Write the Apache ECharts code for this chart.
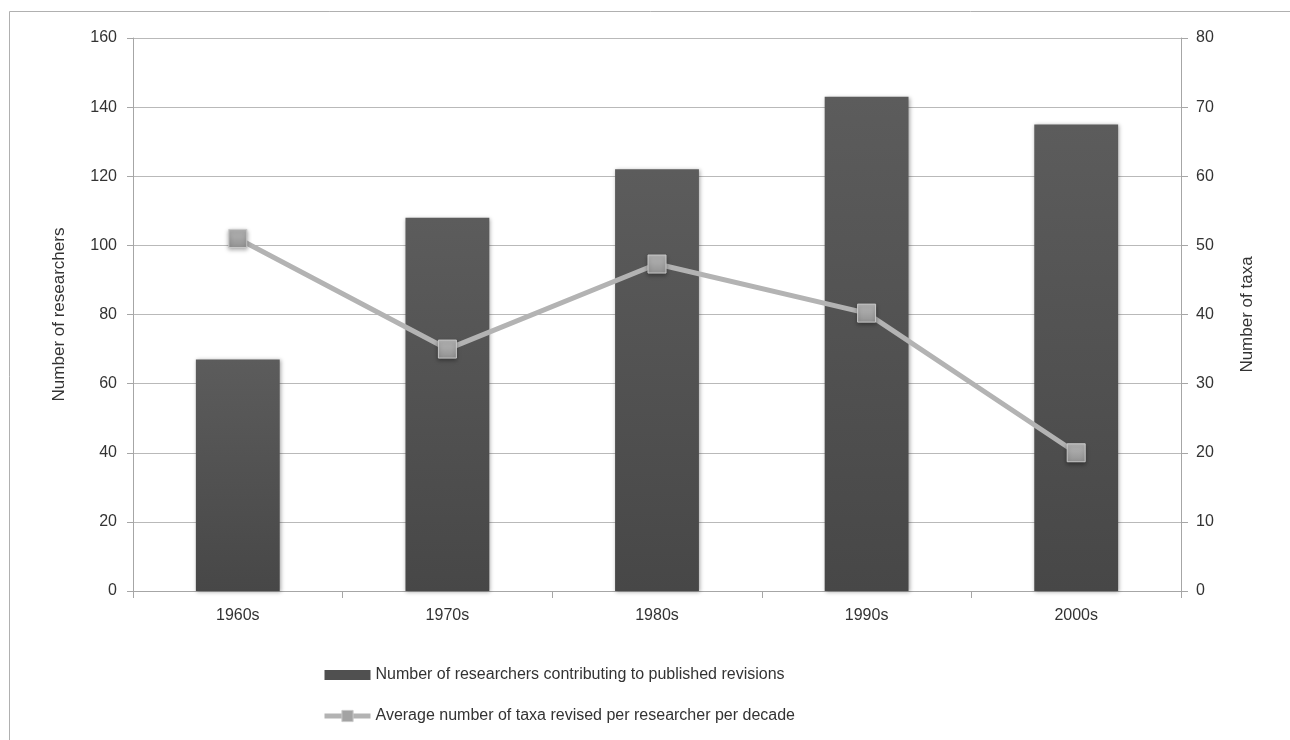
<!DOCTYPE html>
<html>
<head>
<meta charset="utf-8">
<script src="https://cdn.jsdelivr.net/npm/echarts@6/dist/echarts.min.js"></script>
<style>
  html, body { margin: 0; padding: 0; background: #fff; }
  #chart { width: 1290px; height: 740px; }
</style>
</head>
<body>
<div id="chart"></div>
<script>
// Decades on the category axis
const decades = ['1960s', '1970s', '1980s', '1990s', '2000s'];
// Researchers contributing to published revisions (left axis)
const researchers = [67, 108, 122, 143, 135];
// Average taxa revised per researcher per decade (right axis)
const taxaPerResearcher = [51, 35, 47.3, 40.2, 20];

const FONT = '"Liberation Sans Narrow", "Liberation Sans", Arial, sans-serif';
const TEXT = '#333333';
const AXIS = '#a6a6a6';
const GRID = '#b9b9b9';

const BAR_NAME = 'Number of researchers contributing to published revisions';
const LINE_NAME = 'Average number of taxa revised per researcher per decade';

const barFill = () => new echarts.graphic.LinearGradient(0, 0, 0, 1, [
  { offset: 0, color: '#5c5c5c' },
  { offset: 1, color: '#474747' }
]);
const markerFill = () => new echarts.graphic.LinearGradient(0, 0, 0, 1, [
  { offset: 0, color: '#b8b8b8' },
  { offset: 1, color: '#929292' }
]);

const chart = echarts.init(document.getElementById('chart'), null, { renderer: 'canvas' });

chart.setOption({
  animation: false,
  backgroundColor: '#ffffff',
  textStyle: { fontFamily: FONT },
  graphic: [{
    type: 'rect',
    shape: { x: 9.5, y: 11.5, width: 1400, height: 800 },
    style: { fill: 'none', stroke: '#b0b0b0', lineWidth: 1 },
    silent: true
  }],
  grid: { left: 133, right: 109, top: 38, bottom: 149 },
  legend: {
    orient: 'vertical',
    left: 322,
    top: 667,
    padding: 0,
    itemGap: 25,
    itemWidth: 46,
    itemHeight: 14,
    textStyle: { fontFamily: FONT, fontSize: 16, color: TEXT, padding: [0, 0, 0, 0] },
    data: [
      {
        name: BAR_NAME,
        icon: 'path://M0,2 L46,2 L46,12 L0,12 Z',
        itemStyle: { color: '#505050', shadowBlur: 0 }
      },
      {
        name: LINE_NAME,
        lineStyle: { width: 5, color: '#b3b3b3' },
        itemStyle: { color: '#a3a3a3', borderColor: '#c9c9c9', borderWidth: 1, shadowBlur: 0 }
      }
    ]
  },
  xAxis: {
    type: 'category',
    data: decades,
    boundaryGap: true,
    axisLine: { lineStyle: { color: AXIS, width: 1 } },
    axisTick: { show: true, length: 7, lineStyle: { color: AXIS } },
    axisLabel: { fontFamily: FONT, fontSize: 16, color: TEXT, margin: 17 }
  },
  yAxis: [{
    type: 'value',
    min: 0, max: 160, interval: 20,
    name: 'Number of researchers',
    nameLocation: 'middle',
    nameRotate: 90,
    nameGap: 65,
    nameTextStyle: { fontFamily: FONT, fontSize: 17, color: TEXT },
    axisLine: { show: true, lineStyle: { color: AXIS } },
    axisTick: { show: true, length: 6, lineStyle: { color: AXIS } },
    axisLabel: { fontFamily: FONT, fontSize: 16, color: TEXT, margin: 16 },
    splitLine: { show: true, lineStyle: { color: GRID, width: 1 } }
  }, {
    type: 'value',
    position: 'right',
    min: 0, max: 80, interval: 10,
    name: 'Number of taxa',
    nameLocation: 'middle',
    nameRotate: 90,
    nameGap: 58,
    nameTextStyle: { fontFamily: FONT, fontSize: 17, color: TEXT },
    axisLine: { show: true, lineStyle: { color: AXIS } },
    axisTick: { show: true, length: 7, lineStyle: { color: AXIS } },
    axisLabel: { fontFamily: FONT, fontSize: 16, color: TEXT, margin: 15 },
    splitLine: { show: false }
  }],
  series: [{
    name: BAR_NAME,
    type: 'bar',
    yAxisIndex: 0,
    data: researchers,
    barWidth: '40%',
    itemStyle: {
      color: barFill(),
      shadowBlur: 4,
      shadowColor: 'rgba(0,0,0,0.35)',
      shadowOffsetX: 1,
      shadowOffsetY: 1
    }
  }, {
    name: LINE_NAME,
    type: 'line',
    yAxisIndex: 1,
    data: taxaPerResearcher,
    symbol: 'rect',
    symbolSize: 18,
    z: 5,
    lineStyle: { color: '#b3b3b3', width: 5 },
    itemStyle: {
      color: markerFill(),
      borderColor: '#c9c9c9',
      borderWidth: 1,
      shadowBlur: 4,
      shadowColor: 'rgba(0,0,0,0.35)',
      shadowOffsetY: 2
    }
  }]
});
</script>
</body>
</html>
